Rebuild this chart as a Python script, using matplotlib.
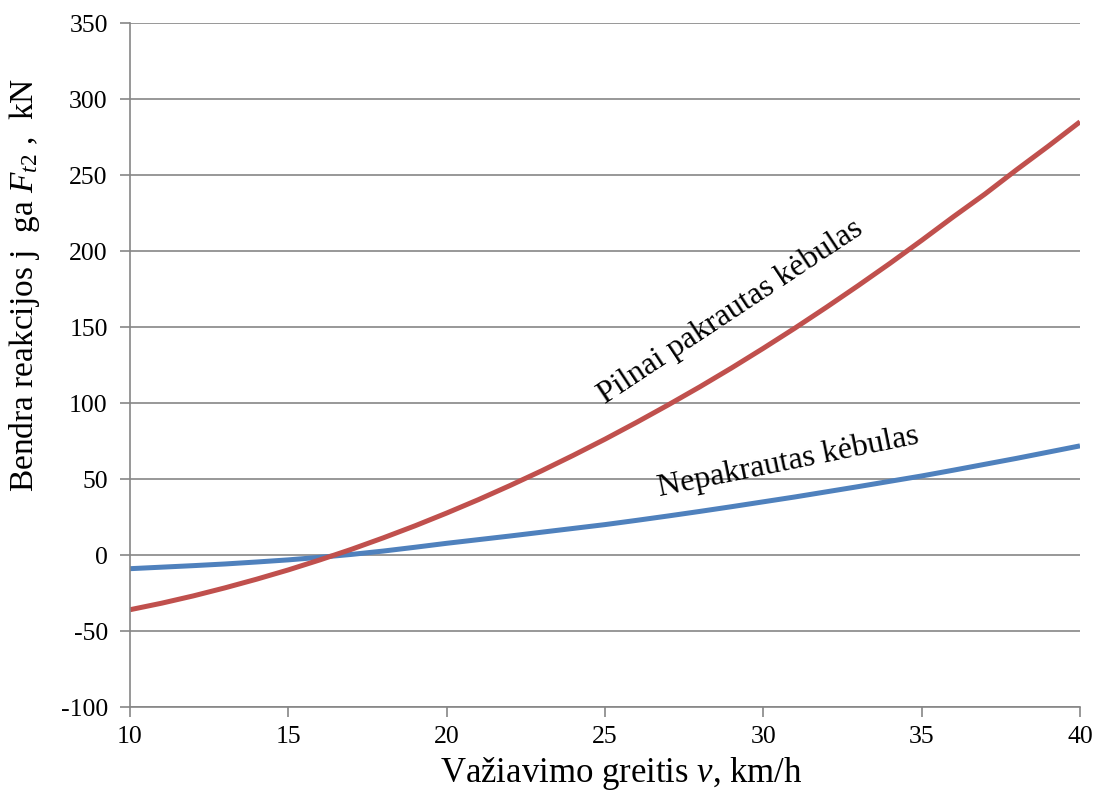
import matplotlib.pyplot as plt

plt.rcParams['font.family'] = 'Liberation Serif'
plt.rcParams['mathtext.fontset'] = 'custom'
plt.rcParams['mathtext.rm'] = 'Liberation Serif'
plt.rcParams['mathtext.it'] = 'Liberation Serif:italic'
plt.rcParams['axes.unicode_minus'] = False

# greitis, km/h
greitis = list(range(10, 41))
# reakcijos jega, kN
pilnai = [-36, -31.7, -26.9, -21.6, -15.9, -9.8, -3.2, 3.8, 11.3, 19.2,
          27.6, 36.4, 45.7, 55.4, 65.6, 76.2, 87.3, 98.8, 110.7, 123.1,
          136, 149.3, 163.1, 177.3, 191.9, 207, 222.5, 237.5, 253.5, 269, 285]
nepakrautas = [-9, -8, -7, -5.9, -4.6, -3.2, -1.5, 0.4, 2.6, 5.1,
               7.7, 10.1, 12.5, 15, 17.5, 20, 22.8, 25.7, 28.7, 31.8,
               35, 38.2, 41.6, 45, 48.5, 52, 55.8, 59.7, 63.6, 67.7, 71.8]

x_ticks = [10, 15, 20, 25, 30, 35, 40]
y_ticks = [-100, -50, 0, 50, 100, 150, 200, 250, 300, 350]

fig = plt.figure(figsize=(10.96, 7.96), dpi=100)
ax = fig.add_axes([0.1186, 0.1118, 0.8668, 0.8593])

pilka = '#868686'
ax.set_axisbelow(True)
ax.yaxis.grid(True, color=pilka, linewidth=1.2)

ax.plot(greitis, nepakrautas, color='#4F81BD', linewidth=3.6, solid_capstyle='butt')
ax.plot(greitis, pilnai, color='#C0504D', linewidth=3.6, solid_capstyle='butt')

ax.set_xlim(10, 40)
ax.set_ylim(-100, 350)
ax.set_xticks(x_ticks)
ax.set_yticks(y_ticks)

for s in ['top', 'right']:
    ax.spines[s].set_visible(False)
for s in ['left', 'bottom']:
    ax.spines[s].set_color(pilka)
    ax.spines[s].set_linewidth(1.2)
ax.tick_params(axis='both', colors=pilka, labelcolor='black', labelsize=18.5,
               length=7, width=1.2)
ax.tick_params(axis='y', pad=9)
ax.tick_params(axis='x', pad=7)

ax.set_xlabel('Važiavimo greitis $v$, km/h', fontsize=25)
ax.set_ylabel('Bendra reakcijos j  ga $F_{t2}$ ,  kN', fontsize=24)
ax.xaxis.set_label_coords(0.517, -0.07)
ax.yaxis.set_label_coords(-0.093, 0.617)

ax.text(28.95, 160, 'Pilnai pakrautas kėbulas', fontsize=23, rotation=33.5,
        ha='center', va='center', rotation_mode='anchor')
ax.text(30.8, 61, 'Nepakrautas kėbulas', fontsize=23, rotation=11.5,
        ha='center', va='center', rotation_mode='anchor')

fig.savefig('out.png', dpi=100)
